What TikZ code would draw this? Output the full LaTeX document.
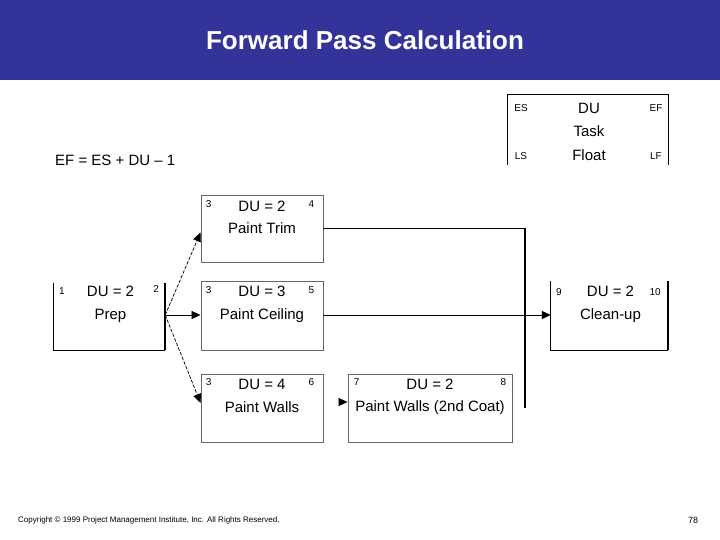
\documentclass[tikz,border=0pt]{standalone}
\usepackage{fontspec}
\setmainfont{Liberation Sans}
\usetikzlibrary{arrows.meta,calc}
\definecolor{titleblue}{HTML}{333399}
\begin{document}
\begin{tikzpicture}[x=1pt,y=-1pt,
  big/.style={font=\fontsize{15}{18}\selectfont, inner sep=0pt},
  small/.style={font=\fontsize{10}{11}\selectfont, inner sep=0pt},
  taskbox/.style={draw=black!60, line width=0.9pt, minimum width=122pt, minimum height=68pt, inner sep=0pt},
  openbox/.style={minimum width=112pt, minimum height=68pt, inner sep=0pt},
  conn/.style={line width=0.7pt, -{Triangle[length=9pt,width=8pt]}},
  dashconn/.style={conn, dash pattern=on 3.5pt off 1.5pt}]
\useasboundingbox (0,0) rectangle (720,540);
\fill[titleblue] (0,0) rectangle (720,80);
\node[font=\fontsize{26}{30}\selectfont\bfseries, text=white, inner sep=0pt] (title) at (365,40) {Forward Pass Calculation};

% legend
\node[minimum width=160pt, minimum height=70pt, inner sep=0pt] (legend) at (588,130) {};
\draw[line width=0.8pt] (legend.south west) -- (legend.north west) -- (legend.north east) -- (legend.south east);
\node[small] (les) at (521,108) {ES};
\node[big] (ldu) at (589,108) {DU};
\node[small] (lef) at (656,108) {EF};
\node[big] (ltask) at (589,131) {Task};
\node[small] (lls) at (521,156) {LS};
\node[big] (lfl) at (589,155) {Float};
\node[small] (llf) at (656,156) {LF};

\node[big, anchor=west] (formula) at (55,160) {EF = ES + DU -- 1};

% boxes
\node[openbox, minimum width=111pt, minimum height=67pt] (prep) at (109.5,316.5) {};
\draw[line width=0.8pt] (prep.north west) -- (prep.south west) -- (prep.south east);
\draw[line width=1.6pt] (prep.south east) -- (prep.north east);
\node[taskbox, minimum height=67pt] (trim) at (262,228.5) {};
\node[taskbox, minimum height=69pt] (ceil) at (262,315.5) {};
\node[taskbox] (walls) at (262,408) {};
\node[taskbox, minimum width=164pt] (coat) at (430,408) {};
\node[openbox, minimum width=117pt, minimum height=69pt] (clean) at (609.5,315.5) {};
\draw[line width=0.8pt] (clean.north west) -- (clean.south west) -- (clean.south east);
\draw[line width=1.6pt] (clean.south east) -- (clean.north east);

% texts
\node[small] (p1) at ($(prep.north west)+(8,8)$) {1};
\node[big] (pdu) at ($(prep.north)+(1,9)$) {DU = 2};
\node[small] (p2) at ($(prep.north east)+(-9,6)$) {2};
\node[big] (pn) at ($(prep.north)+(1,33)$) {Prep};

\node[small] (t1) at ($(trim.north west)+(8,10)$) {3};
\node[big] (tdu) at ($(trim.north)+(0,12)$) {DU = 2};
\node[small] (t2) at ($(trim.north east)+(-12,10)$) {4};
\node[big] (tn) at ($(trim.north)+(0,34)$) {Paint Trim};

\node[small] (c1) at ($(ceil.north west)+(8,10)$) {3};
\node[big] (cdu) at ($(ceil.north)+(0,11)$) {DU = 3};
\node[small] (c2) at ($(ceil.north east)+(-12,10)$) {5};
\node[big] (cn) at ($(ceil.north)+(0,35)$) {Paint Ceiling};

\node[small] (w1) at ($(walls.north west)+(8,9)$) {3};
\node[big] (wdu) at ($(walls.north)+(0,11)$) {DU = 4};
\node[small] (w2) at ($(walls.north east)+(-12,9)$) {6};
\node[big] (wn) at ($(walls.north)+(0,34)$) {Paint Walls};

\node[small] (k1) at ($(coat.north west)+(9,9)$) {7};
\node[big] (kdu) at ($(coat.north)+(0,11)$) {DU = 2};
\node[small] (k2) at ($(coat.north east)+(-9,9)$) {8};
\node[big] (kn) at ($(coat.north)+(0,34)$) {Paint Walls (2nd Coat)};

\node[small] (e1) at ($(clean.north west)+(8,11)$) {9};
\node[big] (edu) at ($(clean.north)+(1,11)$) {DU = 2};
\node[small] (e2) at ($(clean.north east)+(-13,11)$) {10};
\node[big] (en) at ($(clean.north)+(1,35)$) {Clean-up};

% connectors
\coordinate (pout) at (prep.east |- 0,315);
\draw[dashconn] (pout) -- ($(trim.west)+(0,4)$);
\draw[conn] (pout) -- (ceil.west |- pout);
\draw[dashconn] (pout) -- ($(walls.west)+(0,-5)$);
\coordinate (jtop) at (525,228.5);
\coordinate (jbot) at (525,408);
\draw[line width=0.8pt] (trim.east) -- (jtop);
\draw[line width=1.4pt] (jtop) -- (jbot);
\draw[conn] (ceil.east |- pout) -- (clean.west |- pout);
\coordinate (cin) at ($(coat.west)+(-9,-6)$);
\draw[conn] (cin) -- ($(coat.west)+(0,-6)$);

\node[font=\fontsize{8}{9}\selectfont, anchor=west, inner sep=0pt] (copy) at (18,520) {Copyright \textcopyright{} 1999 Project Management Institute, Inc. All Rights Reserved.};
\node[font=\fontsize{9}{10}\selectfont, inner sep=0pt] (page) at (693,520) {78};
\end{tikzpicture}
\end{document}
